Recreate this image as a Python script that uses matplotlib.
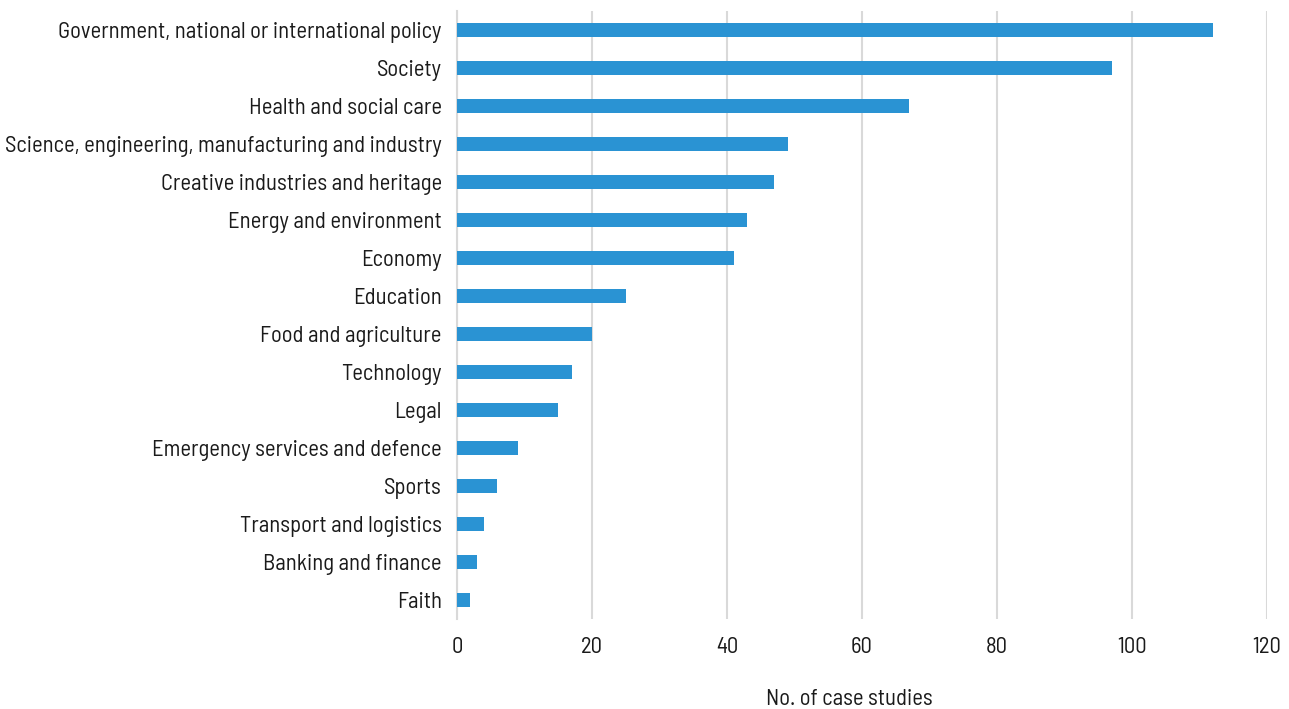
import matplotlib
matplotlib.use("Agg")
import matplotlib.pyplot as plt

categories = [
    "Government, national or international policy",
    "Society",
    "Health and social care",
    "Science, engineering, manufacturing and industry",
    "Creative industries and heritage",
    "Energy and environment",
    "Economy",
    "Education",
    "Food and agriculture",
    "Technology",
    "Legal",
    "Emergency services and defence",
    "Sports",
    "Transport and logistics",
    "Banking and finance",
    "Faith",
]
counts = [112, 97, 67, 49, 47, 43, 41, 25, 20, 17, 15, 9, 6, 4, 3, 2]
xticks = [0, 20, 40, 60, 80, 100, 120]

plt.rcParams["font.family"] = ["Barlow Semi Condensed", "DejaVu Sans"]

fig = plt.figure(figsize=(12.89, 7.09), dpi=100)
ax = fig.add_axes([0.3545, 0.127, 0.6285, 0.8575])

y = list(range(len(categories)))[::-1]
ax.barh(y, counts, height=0.35, color="#2a93d3", zorder=3)

ax.set_xlim(0, 120)
ax.set_ylim(-0.5, len(categories) - 0.5)
ax.set_xticks(xticks)
ax.set_yticks(y)
ax.set_yticklabels(categories, fontsize=16.3, color="#1a1a1a")
ax.tick_params(axis="x", labelsize=16.3, colors="#1a1a1a", length=0, pad=13)
ax.tick_params(axis="y", length=0, pad=11)
ax.grid(axis="x", color="#d9d9d9", linewidth=1.5, zorder=0)
for s in ["top", "right", "bottom"]:
    ax.spines[s].set_visible(False)
ax.spines["left"].set_color("#d9d9d9")
ax.spines["left"].set_linewidth(1.5)

ax.set_xlabel("No. of case studies", fontsize=16.3, color="#1a1a1a")
ax.xaxis.set_label_coords(0.484, -0.115)

fig.savefig("out.png", dpi=100)
